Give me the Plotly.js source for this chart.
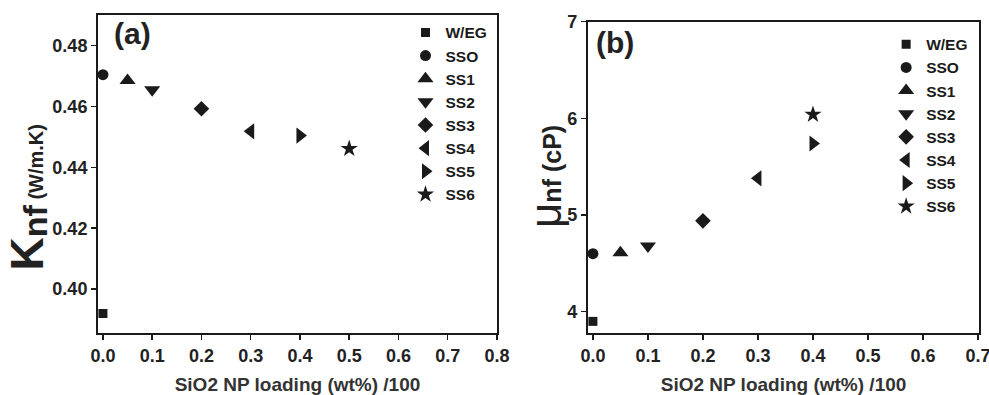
<!DOCTYPE html>
<html>
<head>
<meta charset="utf-8">
<script src="https://cdn.plot.ly/plotly-3.0.1.min.js"></script>
<style>html,body{margin:0;padding:0;background:#fff;}#chart{width:989px;height:395px;}</style>
</head>
<body>
<div id="chart"></div>
<script>
// Sample names
const samples = ["W/EG", "SSO", "SS1", "SS2", "SS3", "SS4", "SS5", "SS6"];
// Panel (a): thermal conductivity
const loadingA = [0.0, 0.0, 0.05, 0.1, 0.2, 0.3, 0.4, 0.5];
const knf = [0.392, 0.4704, 0.4685, 0.4655, 0.4592, 0.4518, 0.4504, 0.4461];
// Panel (b): viscosity
const loadingB = [0.0, 0.0, 0.05, 0.1, 0.2, 0.3, 0.4, 0.4];
const munf = [3.90, 4.60, 4.61, 4.68, 4.94, 5.38, 5.74, 6.04];
// Tick values
const xTicksA = [0, 0.1, 0.2, 0.3, 0.4, 0.5, 0.6, 0.7, 0.8];
const yTicksA = [0.40, 0.42, 0.44, 0.46, 0.48];
const xTicksB = [0, 0.1, 0.2, 0.3, 0.4, 0.5, 0.6, 0.7];
const yTicksB = [4, 5, 6, 7];

const symbols = ["square", "circle", "triangle-up", "triangle-down", "diamond", "triangle-left", "triangle-right", "star"];
const sizes = [9, 11, 14, 14, 12, 14, 14, 13];
const FONT = "Arial, 'Liberation Sans', sans-serif";
const INK = "#1a1a1a";

const traces = [];
samples.forEach((s, i) => {
  traces.push({
    x: [loadingA[i]], y: [knf[i]], name: s, type: "scatter", mode: "markers",
    xaxis: "x", yaxis: "y", legend: "legend",
    marker: {symbol: symbols[i], size: sizes[i], color: INK, line: {width: 0}},
    cliponaxis: false
  });
});
samples.forEach((s, i) => {
  traces.push({
    x: [loadingB[i]], y: [munf[i]], name: s, type: "scatter", mode: "markers",
    xaxis: "x2", yaxis: "y2", legend: "legend2",
    marker: {symbol: symbols[i], size: sizes[i], color: INK, line: {width: 0}},
    cliponaxis: false
  });
});

const axBase = {
  showgrid: false, zeroline: false, showline: true, mirror: true,
  linecolor: INK, linewidth: 2, ticks: "outside", ticklen: 5, tickwidth: 1.5, tickcolor: INK,
  ticklabeloverflow: "allow",
  tickfont: {family: FONT, size: 18, color: "#222"}
};
const bold = v => "<b>" + v + "</b>";

const xTitle = {text: "<b>SiO2 NP loading (wt%) /100</b>", font: {family: FONT, size: 19, color: "#333"}, standoff: 13};

const legFont = {family: FONT, size: 15.5, color: INK, weight: "bold"};

const layout = {
  width: 989, height: 395,
  margin: {l: 0, r: 0, t: 0, b: 0},
  paper_bgcolor: "#fff", plot_bgcolor: "#fff",
  showlegend: true,
  xaxis: Object.assign({}, axBase, {
    domain: [0.0991, 0.5025], range: [-0.01, 0.8], tickvals: xTicksA,
    ticktext: xTicksA.map(v => bold(v.toFixed(1))), anchor: "y", title: xTitle, automargin: false
  }),
  yaxis: Object.assign({}, axBase, {
    domain: [0.157, 0.962], range: [0.3856, 0.490], tickvals: yTicksA,
    ticktext: yTicksA.map(v => bold(v.toFixed(2))), anchor: "x", automargin: false
  }),
  xaxis2: Object.assign({}, axBase, {
    domain: [0.5945, 0.990], range: [-0.009, 0.702], tickvals: xTicksB,
    ticktext: xTicksB.map(v => bold(v.toFixed(1))), anchor: "y2", title: xTitle, automargin: false
  }),
  yaxis2: Object.assign({}, axBase, {
    domain: [0.157, 0.945], range: [3.78, 7.0], tickvals: yTicksB,
    ticktext: yTicksB.map(v => bold(String(v))), anchor: "x2", automargin: false
  }),
  legend: {
    x: 0.41, y: 0.96, xanchor: "left", yanchor: "top",
    bgcolor: "rgba(0,0,0,0)", borderwidth: 0, tracegroupgap: 0, itemwidth: 30,
    font: legFont
  },
  legend2: {
    x: 0.896, y: 0.93, xanchor: "left", yanchor: "top",
    bgcolor: "rgba(0,0,0,0)", borderwidth: 0, tracegroupgap: 0, itemwidth: 30,
    font: legFont
  },
  annotations: [
    {xref: "paper", yref: "paper", x: 0.113, y: 0.915, xanchor: "left", yanchor: "middle",
     text: "<b>(a)</b>", showarrow: false, font: {family: FONT, size: 30, color: "#222"}},
    {xref: "paper", yref: "paper", x: 0.601, y: 0.892, xanchor: "left", yanchor: "middle",
     text: "<b>(b)</b>", showarrow: false, font: {family: FONT, size: 30, color: "#222"}},
    {xref: "paper", yref: "paper", x: 27 / 989, y: 0.50, xanchor: "center", yanchor: "middle",
     textangle: -90, showarrow: false, font: {family: FONT, size: 20, color: "#222"},
     text: "<b><span style='font-size:46px'>K</span><sub><span style='font-size:34px'>nf</span></sub></b><b><span style='font-size:20px'> (W/m.K)</span></b>"},
    {xref: "paper", yref: "paper", x: 546 / 989, y: (395 - 177) / 395, xanchor: "center", yanchor: "middle",
     textangle: -90, showarrow: false, font: {family: FONT, size: 25, color: "#222"},
     text: "<span style='font-size:44px'>μ</span><b>nf (cP)</b>"}
  ]
};

Plotly.newPlot("chart", traces, layout, {displayModeBar: false, staticPlot: true});
</script>
</body>
</html>
